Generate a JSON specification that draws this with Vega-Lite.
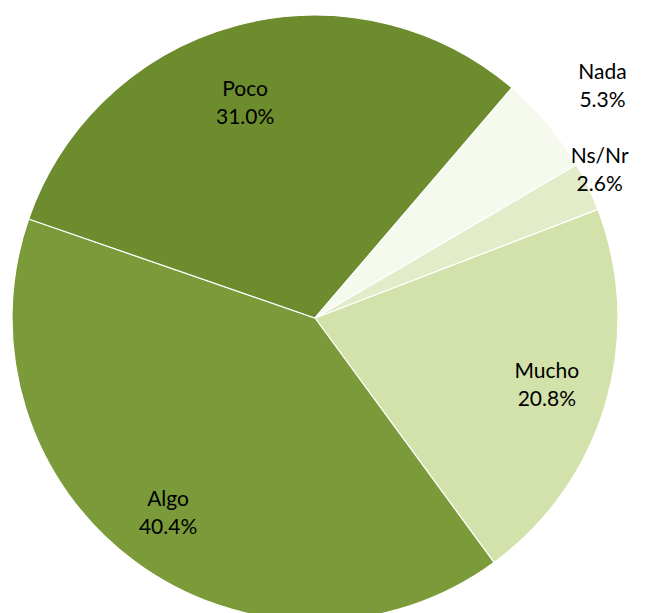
{
  "$schema": "https://vega.github.io/schema/vega-lite/v6.json",
  "width": 630,
  "height": 590,
  "autosize": {"type": "none"},
  "padding": {"left": 0, "right": 24, "top": 23, "bottom": 0},
  "background": "white",
  "view": {"stroke": null},
  "data": {
    "values": [
      {"cat": "Mucho", "pct": 20.8},
      {"cat": "Algo", "pct": 40.4},
      {"cat": "Poco", "pct": 31.0},
      {"cat": "Nada", "pct": 5.3},
      {"cat": "Ns/Nr", "pct": 2.6}
    ]
  },
  "transform": [
    {"calculate": "indexof(['Mucho','Algo','Poco','Nada','Ns/Nr'], datum.cat)", "as": "ord"},
    {"calculate": "datum.cat + '\\n' + format(datum.pct, '.1f') + '%'", "as": "label"}
  ],
  "encoding": {
    "theta": {"field": "pct", "type": "quantitative", "stack": true, "scale": {"range": [1.204, 7.487]}},
    "order": {"field": "ord", "type": "quantitative", "sort": "ascending"}
  },
  "layer": [
    {
      "mark": {"type": "arc", "outerRadius": 303, "stroke": "#ffffff", "strokeWidth": 1.2},
      "encoding": {
        "color": {
          "field": "cat", "type": "nominal", "legend": null,
          "scale": {"domain": ["Mucho", "Algo", "Poco", "Nada", "Ns/Nr"], "range": ["#d2e2aa", "#7b9b3a", "#6d8c2e", "#f6f9ee", "#e2ecc9"]}
        }
      }
    },
    {
      "mark": {"type": "text", "radius": 238, "thetaOffset": -0.058, "font": "Lato", "fontSize": 21, "lineBreak": "\n", "lineHeight": 28, "color": "#000000", "baseline": "middle"},
      "encoding": {"text": {"condition": {"test": "datum.cat === 'Mucho'", "field": "label"}, "value": ""}}
    },
    {
      "mark": {"type": "text", "radius": 234, "thetaOffset": 0.043, "font": "Lato", "fontSize": 21, "lineBreak": "\n", "lineHeight": 28, "color": "#000000", "baseline": "middle"},
      "encoding": {"text": {"condition": {"test": "datum.cat === 'Algo'", "field": "label"}, "value": ""}}
    },
    {
      "mark": {"type": "text", "radius": 238, "thetaOffset": -0.033, "font": "Lato", "fontSize": 21, "lineBreak": "\n", "lineHeight": 28, "color": "#000000", "baseline": "middle"},
      "encoding": {"text": {"condition": {"test": "datum.cat === 'Poco'", "field": "label"}, "value": ""}}
    },
    {
      "mark": {"type": "text", "radius": 378, "thetaOffset": -0.01, "font": "Lato", "fontSize": 21, "lineBreak": "\n", "lineHeight": 28, "color": "#000000", "baseline": "middle"},
      "encoding": {"text": {"condition": {"test": "datum.cat === 'Nada'", "field": "label"}, "value": ""}}
    },
    {
      "mark": {"type": "text", "radius": 327, "thetaOffset": -0.066, "font": "Lato", "fontSize": 21, "lineBreak": "\n", "lineHeight": 28, "color": "#000000", "baseline": "middle"},
      "encoding": {"text": {"condition": {"test": "datum.cat === 'Ns/Nr'", "field": "label"}, "value": ""}}
    }
  ]
}
